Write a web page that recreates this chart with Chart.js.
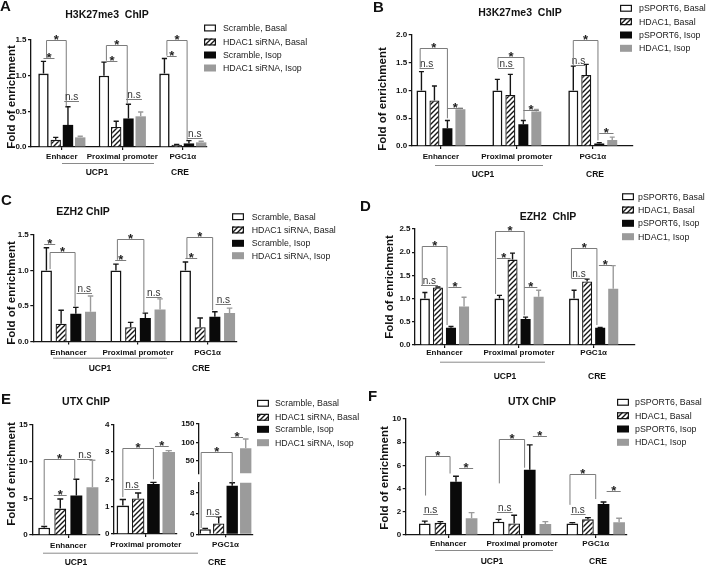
<!DOCTYPE html>
<html><head><meta charset="utf-8">
<script src="https://cdn.jsdelivr.net/npm/chart.js@4.4.1/dist/chart.umd.min.js"></script>
<style>
html,body{margin:0;padding:0;background:#fff;}
#wrap{position:relative;width:713px;height:567px;overflow:hidden;background:#fff;}
#wrap canvas{position:absolute;left:0;top:0;}
</style>
</head><body>
<div id="wrap"></div>
<script>
// ---------------- categories, legends, tick labels ----------------
const catsUCP = ['Enhancer', 'Proximal promoter', 'PGC1\u03b1'];
const catsA = ['Enhacer', 'Proximal promoter', 'PGC1\u03b1'];
const legendKD = ['Scramble, Basal', 'HDAC1 siRNA, Basal', 'Scramble, Isop', 'HDAC1 siRNA, Isop'];
const legendOE = ['pSPORT6, Basal', 'HDAC1, Basal', 'pSPORT6, Isop', 'HDAC1, Isop'];
const yTicksA = ['0.0', '0.5', '1.0', '1.5'];
const yTicksB = ['0.0', '0.5', '1.0', '1.5', '2.0'];
const yTicksC = ['0.0', '0.5', '1.0', '1.5'];
const yTicksD = ['0.0', '0.5', '1.0', '1.5', '2.0', '2.5'];
const yTicksE1 = ['0', '5', '10', '15'];
const yTicksE2 = ['0', '1', '2', '3', '4'];
const yTicksE3low = ['0', '2', '4', '6', '8', '10'];
const yTicksE3high = ['50', '100', '150'];
const yTicksF = ['0', '2', '4', '6', '8', '10'];

// ---------------- values (mean, error) ----------------
const A_scrBasal = [1.03, 1.00, 1.03], A_scrBasalErr = [0.17, 0.19, 0.21];
const A_kdBasal  = [0.10, 0.28, 0.03], A_kdBasalErr  = [0.035, 0.08, 0.005];
const A_scrIsop  = [0.31, 0.40, 0.05], A_scrIsopErr  = [0.255, 0.20, 0.04];
const A_kdIsop   = [0.135, 0.43, 0.065], A_kdIsopErr = [0.015, 0.06, 0.015];

const B_vecBasal = [1.00, 1.00, 1.00], B_vecBasalErr = [0.34, 0.20, 0.44];
const B_hdBasal  = [0.82, 0.92, 1.28], B_hdBasalErr  = [0.26, 0.37, 0.19];
const B_vecIsop  = [0.32, 0.39, 0.045], B_vecIsopErr = [0.14, 0.07, 0.015];
const B_hdIsop   = [0.66, 0.62, 0.11], B_hdIsopErr   = [0.02, 0.04, 0.05];

const C_scrBasal = [1.00, 1.00, 1.00], C_scrBasalErr = [0.32, 0.09, 0.12];
const C_kdBasal  = [0.25, 0.20, 0.20], C_kdBasalErr  = [0.19, 0.07, 0.13];
const C_scrIsop  = [0.39, 0.33, 0.35], C_scrIsopErr  = [0.09, 0.07, 0.07];
const C_kdIsop   = [0.42, 0.45, 0.40], C_kdIsopErr   = [0.22, 0.15, 0.07];

const D_vecBasal = [1.00, 1.00, 1.00], D_vecBasalErr = [0.13, 0.07, 0.18];
const D_hdBasal  = [1.24, 1.84, 1.37], D_hdBasalErr  = [0.01, 0.14, 0.05];
const D_vecIsop  = [0.37, 0.56, 0.37], D_vecIsopErr  = [0.03, 0.04, 0.01];
const D_hdIsop   = [0.83, 1.04, 1.21], D_hdIsopErr   = [0.20, 0.14, 0.50];

const E_scrBasal = [1.0, 1.04, 1.0], E_scrBasalErr = [0.15, 0.22, 0.15];
const E_kdBasal  = [3.6, 1.30, 2.1], E_kdBasalErr  = [1.3, 0.20, 1.3];
const E_scrIsop  = [5.4, 1.83, 9.4], E_scrIsopErr  = [2.2, 0.06, 0.6];
const E_kdIsop   = [6.5, 3.00, 84],  E_kdIsopErr   = [3.7, 0.05, 25];

const F_vecBasal = [1.00, 1.15, 1.00], F_vecBasalErr = [0.20, 0.20, 0.07];
const F_hdBasal  = [1.06, 1.00, 1.35], F_hdBasalErr  = [0.09, 0.70, 0.15];
const F_vecIsop  = [4.60, 5.62, 2.67], F_vecIsopErr  = [0.46, 2.15, 0.18];
const F_hdIsop   = [1.45, 0.95, 1.10], F_hdIsopErr   = [0.48, 0.20, 0.34];

// significance marks: [category, fromBar, toBar, lineValue, dropFrom, dropTo, label]
const A_sig = [
  [0, 0, 0.9, 1.25, null, null, '*'], [0, 0.25, 1.86, 1.50, 1.25, 0.57, '*'], [0, 1.7, 2.9, 0.645, null, null, 'n.s'],
  [1, 0.2, 1.1, 1.21, null, null, '*'], [1, 0.2, 1.9, 1.43, 1.21, 0.61, '*'], [1, 1.8, 3.1, 0.67, null, null, 'n.s'],
  [2, 0.2, 1.0, 1.28, null, null, '*'], [2, 0.2, 1.85, 1.50, 1.28, 0.10, '*'], [2, 1.85, 3.1, 0.12, null, null, 'n.s']];
const B_sig = [
  [0, -0.15, 0.95, 1.41, null, null, 'n.s'], [0, -0.1, 2.0, 1.76, 1.41, 0.50, '*'], [0, 2.0, 3.2, 0.69, null, null, '*'],
  [1, 0.05, 1.3, 1.41, null, null, 'n.s'], [1, 0.05, 2.05, 1.61, 1.41, 0.47, '*'], [1, 2.0, 3.2, 0.65, null, null, '*'],
  [2, -0.1, 0.9, 1.46, null, null, 'n.s'], [2, 0, 1.9, 1.91, 1.46, 0.10, '*'], [2, 2.0, 3.1, 0.23, null, null, '*']];
const C_sig = [
  [0, -0.15, 0.6, 1.38, null, null, '*'], [0, 0.25, 1.95, 1.26, 1.02, 0.49, '*'], [0, 2.05, 3.1, 0.685, null, null, 'n.s'],
  [1, -0.05, 0.7, 1.15, null, null, '*'], [1, 0.1, 1.9, 1.45, 1.15, 0.41, '*'], [1, 2.05, 3.1, 0.63, null, null, 'n.s'],
  [2, 0.0, 0.8, 1.17, null, null, '*'], [2, 0.1, 1.85, 1.47, 1.17, 0.44, '*'], [2, 2.05, 3.1, 0.525, null, null, 'n.s']];
const D_sig = [
  [0, -0.3, 1.0, 1.29, null, null, 'n.s'], [0, -0.2, 1.7, 2.13, 1.29, 0.43, '*'], [0, 1.8, 2.8, 1.24, null, null, '*'],
  [1, -0.2, 0.85, 1.88, null, null, '*'], [1, -0.3, 1.9, 2.46, 1.1, 0.64, '*'], [1, 1.9, 2.9, 1.24, null, null, '*'],
  [2, -0.2, 0.95, 1.44, null, null, 'n.s'], [2, -0.2, 1.75, 2.1, 1.44, 0.43, '*'], [2, 1.9, 2.9, 1.73, null, null, '*']];
const E1_sig = [[0, 0.6, 1.4, 5.4, null, null, '*'], [0, 0, 1.9, 10.4, 1.3, 7.6, '*'], [0, 2.05, 3.0, 10.4, null, null, 'n.s']];
const E2_sig = [[0, 0.1, 1.1, 1.65, null, null, 'n.s'], [0, 0, 2.0, 3.13, 1.35, 2.0, '*'], [0, 2.1, 3.0, 3.22, null, null, '*']];
const E3_sig = [[0, 0.05, 1.1, 3.6, null, null, 'n.s'], [0, -0.3, 2.0, 72.7, 1.2, 10.0, '*'], [0, 1.9, 2.8, 115, null, null, '*']];
const F_sig = [
  [0, -0.1, 0.85, 1.78, null, null, 'n.s'], [0, 0.05, 1.62, 6.85, 3.4, 5.3, '*'], [0, 2.2, 3.1, 5.75, null, null, '*'],
  [1, -0.1, 0.9, 1.95, null, null, 'n.s'], [1, 0.05, 1.67, 8.27, 4.45, 5.8, '*'], [1, 2.2, 3.1, 8.53, null, null, '*'],
  [2, -0.1, 0.85, 1.78, null, null, 'n.s'], [2, -0.15, 1.5, 5.3, 2.6, 3.1, '*'], [2, 2.2, 3.1, 3.8, null, null, '*']];

// ---------------- styles ----------------
const FONT = "'Liberation Sans', Arial, Helvetica, sans-serif";
const INK = '#151515', GRAY = '#9b9b9b';
function makeHatch() {
  const c = document.createElement('canvas'); c.width = 5; c.height = 5;
  const g = c.getContext('2d');
  g.fillStyle = '#fff'; g.fillRect(0, 0, 5, 5);
  g.strokeStyle = INK; g.lineWidth = 1.4; g.lineCap = 'square';
  g.beginPath(); g.moveTo(-1, 6); g.lineTo(6, -1); g.stroke();
  g.beginPath(); g.moveTo(-1, 1); g.lineTo(1, -1); g.moveTo(4, 6); g.lineTo(6, 4); g.stroke();
  return g.createPattern(c, 'repeat');
}
const HATCH = makeHatch();
const FILLS = ['#ffffff', HATCH, '#0a0a0a', GRAY];
const BORDERS = [INK, INK, '#0a0a0a', GRAY];
const BWIDTH = [1.6, 1.3, 0, 0];
const ERRC = [INK, INK, INK, GRAY];

// ---------------- plugins ----------------
const errPlugin = {
  id: 'errbars',
  afterDatasetsDraw(chart) {
    const { ctx, chartArea: a } = chart, y = chart.scales.y;
    ctx.save();
    ctx.beginPath(); ctx.rect(a.left - 8, a.top - 2, a.right - a.left + 16, a.bottom - a.top + 2); ctx.clip();
    chart.data.datasets.forEach((ds, di) => {
      const meta = chart.getDatasetMeta(di);
      meta.data.forEach((el, j) => {
        const v = ds.data[j].y, e = ds.errors[j];
        if (!e) return;
        const yb = y.getPixelForValue(v), yt = y.getPixelForValue(v + e);
        const w = el.width * 0.5;
        ctx.strokeStyle = ERRC[di]; ctx.lineWidth = 1.4;
        ctx.beginPath(); ctx.moveTo(el.x, yb); ctx.lineTo(el.x, yt);
        ctx.moveTo(el.x - w / 2, yt); ctx.lineTo(el.x + w / 2, yt); ctx.stroke();
      });
    });
    ctx.restore();
  }
};
const sigPlugin = {
  id: 'sig',
  afterDatasetsDraw(chart, args, opts) {
    const items = opts && opts.items; if (!items) return;
    const ctx = chart.ctx;
    const yPix = opts.yPix || (v => chart.scales.y.getPixelForValue(v));
    const m0 = chart.getDatasetMeta(0), m1 = chart.getDatasetMeta(1);
    ctx.save();
    items.forEach(([cat, a, b, yv, da, db, lab]) => {
      const x0 = m0.data[cat].x, p = m1.data[cat].x - x0;
      const xa = x0 + a * p, xb = x0 + b * p, yy = Math.round(yPix(yv)) + 0.5;
      ctx.strokeStyle = '#7c7c7c'; ctx.lineWidth = 1;
      ctx.beginPath();
      if (da != null) { ctx.moveTo(xa, yPix(da)); ctx.lineTo(xa, yy); } else ctx.moveTo(xa, yy);
      ctx.lineTo(xb, yy);
      if (db != null) ctx.lineTo(xb, yPix(db));
      ctx.stroke();
      ctx.fillStyle = '#222'; ctx.textAlign = 'center'; ctx.textBaseline = 'alphabetic';
      if (lab === '*') { ctx.font = 'bold 13px ' + FONT; ctx.fillText('*', (xa + xb) / 2, yy + 3.5); }
      else { ctx.font = '10px ' + FONT; ctx.fillStyle = '#333'; ctx.fillText(lab, (xa + xb) / 2, yy - 2); }
    });
    ctx.restore();
  }
};
const decorPlugin = {
  id: 'decor',
  afterDraw(chart, args, o) {
    if (!o || !o.letter) return;
    const ctx = chart.ctx; ctx.save();
    ctx.fillStyle = '#111'; ctx.textBaseline = 'middle';
    ctx.font = 'bold 15px ' + FONT; ctx.textAlign = 'left';
    ctx.fillText(o.letter, o.letterPos[0], o.letterPos[1]);
    ctx.font = 'bold 10.5px ' + FONT; ctx.textAlign = 'center';
    ctx.fillText(o.title, o.titlePos[0], o.titlePos[1]);
    ctx.save(); ctx.translate(o.yTitlePos[0], o.yTitlePos[1]); ctx.rotate(-Math.PI / 2);
    ctx.font = 'bold 11.5px ' + FONT; ctx.fillText('Fold of enrichment', 0, 0); ctx.restore();
    // legend
    ctx.font = '8.8px ' + FONT; ctx.textAlign = 'left';
    chart.data.datasets.forEach((d, i) => {
      const yy = o.legendRows[i], bx = o.legendBoxX;
      ctx.fillStyle = FILLS[i]; ctx.fillRect(bx, yy - 3.5, 12, 7);
      if (BWIDTH[i]) { ctx.strokeStyle = INK; ctx.lineWidth = 1.2; ctx.strokeRect(bx + 0.6, yy - 2.9, 10.8, 5.8); }
      ctx.fillStyle = '#222'; ctx.fillText(d.label, o.legendTextX, yy + 0.5);
    });
    // region labels
    ctx.strokeStyle = '#8a8a8a'; ctx.lineWidth = 1;
    ctx.beginPath(); ctx.moveTo(o.ucpLine[0], o.ucpLine[2] + 0.5); ctx.lineTo(o.ucpLine[1], o.ucpLine[2] + 0.5); ctx.stroke();
    ctx.fillStyle = '#111'; ctx.font = 'bold 8.5px ' + FONT; ctx.textAlign = 'center';
    ctx.fillText('UCP1', o.ucpPos[0], o.ucpPos[1]);
    ctx.fillText('CRE', o.crePos[0], o.crePos[1]);
    ctx.restore();
  }
};

// ---------------- chart factory ----------------
function makeChart(cfg) {
  const cv = document.createElement('canvas');
  cv.width = 713; cv.height = 567;
  document.getElementById('wrap').appendChild(cv);
  const [L, T, R, B] = cfg.area;
  const YW = 30, XH = cfg.xDisplay === false ? 0 : 20;
  const datasets = cfg.series.map((vals, i) => ({
    label: cfg.legend[i],
    data: cfg.idx.map((j, k) => ({ x: k, y: vals[j] })),
    errors: cfg.idx.map(j => cfg.errors[i][j]),
    backgroundColor: FILLS[i], borderColor: BORDERS[i], borderWidth: BWIDTH[i],
    categoryPercentage: cfg.catPct, barPercentage: cfg.barPct, clip: 0
  }));
  const cats = cfg.idx.map(j => cfg.cats[j]);
  const tickFont = { family: FONT, size: 8, weight: 'bold' };
  return new Chart(cv, {
    type: 'bar',
    data: { datasets },
    options: {
      responsive: false, animation: false, devicePixelRatio: 1,
      layout: { padding: { left: L - YW, top: T, right: 713 - R, bottom: 567 - B - XH } },
      plugins: {
        legend: { display: false }, tooltip: { enabled: false }, title: { display: false },
        sig: { items: cfg.sig, yPix: cfg.yPix }, decor: cfg.decor || {}
      },
      scales: {
        x: {
          type: 'linear', min: cfg.xr[0], max: cfg.xr[1], offset: false, display: cfg.xDisplay !== false,
          afterBuildTicks: s => { s.ticks = cats.map((c, i) => ({ value: i })); },
          afterFit: s => { s.height = XH; },
          grid: { display: true, drawOnChartArea: false, drawTicks: true, tickLength: 3, color: INK, lineWidth: 1.2, offset: false },
          border: { display: true, color: INK, width: 1.3 },
          ticks: { callback: v => cats[v], font: tickFont, color: '#111', padding: cfg.xpad, maxRotation: 0, autoSkip: false }
        },
        y: {
          type: 'linear', min: cfg.yr[0], max: cfg.yr[1],
          afterBuildTicks: s => { s.ticks = cfg.yticks.map(t => ({ value: parseFloat(t) })); },
          afterFit: s => { s.width = YW; },
          grid: { display: true, drawOnChartArea: false, drawTicks: true, tickLength: 3, color: INK, lineWidth: 1.2 },
          border: { display: true, color: INK, width: 1.3 },
          ticks: { callback: (v, i) => cfg.yticks[i], font: tickFont, color: '#111', padding: 1.5 }
        }
      }
    },
    plugins: [errPlugin, sigPlugin, decorPlugin]
  });
}

const ALL = [0, 1, 2];
// Panel A
makeChart({
  area: [31, 40, 207, 147], xr: [-0.51, 2.4], yr: [0, 1.5], yticks: yTicksA, cats: catsA, idx: ALL, xpad: 2.2,
  series: [A_scrBasal, A_kdBasal, A_scrIsop, A_kdIsop], errors: [A_scrBasalErr, A_kdBasalErr, A_scrIsopErr, A_kdIsopErr],
  legend: legendKD, catPct: 0.81, barPct: 0.85, sig: A_sig,
  decor: { letter: 'A', letterPos: [0, 7], title: 'H3K27me3  ChIP', titlePos: [107, 15], yTitlePos: [12, 97],
    legendBoxX: 204, legendTextX: 223, legendRows: [28, 42, 55, 68], ucpLine: [62, 154, 163], ucpPos: [97, 173], crePos: [180, 173] }
});
// Panel B
makeChart({
  area: [411.7, 35, 633, 146], xr: [-0.385, 2.53], yr: [0, 2.0], yticks: yTicksB, cats: catsUCP, idx: ALL, xpad: 2.9,
  series: [B_vecBasal, B_hdBasal, B_vecIsop, B_hdIsop], errors: [B_vecBasalErr, B_hdBasalErr, B_vecIsopErr, B_hdIsopErr],
  legend: legendOE, catPct: 0.684, barPct: 0.77, sig: B_sig,
  decor: { letter: 'B', letterPos: [373, 8], title: 'H3K27me3  ChIP', titlePos: [520, 13.5], yTitlePos: [383, 99],
    legendBoxX: 620, legendTextX: 639, legendRows: [8.3, 21.7, 35, 48.3], ucpLine: [435, 543, 165], ucpPos: [483, 175], crePos: [595, 175] }
});
// Panel C
makeChart({
  area: [33.3, 235, 236.7, 341.5], xr: [-0.506, 2.42], yr: [0, 1.5], yticks: yTicksC, cats: catsUCP, idx: ALL, xpad: 3.4,
  series: [C_scrBasal, C_kdBasal, C_scrIsop, C_kdIsop], errors: [C_scrBasalErr, C_kdBasalErr, C_scrIsopErr, C_kdIsopErr],
  legend: legendKD, catPct: 0.846, barPct: 0.75, sig: C_sig,
  decor: { letter: 'C', letterPos: [1, 201], title: 'EZH2 ChIP', titlePos: [83, 212], yTitlePos: [12, 293],
    legendBoxX: 232, legendTextX: 251.7, legendRows: [216.7, 230, 243.3, 255.7], ucpLine: [53, 167, 357.7], ucpPos: [100, 368.3], crePos: [201, 368.3] }
});
// Panel D
makeChart({
  area: [415, 229, 634.3, 345], xr: [-0.395, 2.545], yr: [0, 2.5], yticks: yTicksD, cats: catsUCP, idx: ALL, xpad: 0,
  series: [D_vecBasal, D_hdBasal, D_vecIsop, D_hdIsop], errors: [D_vecBasalErr, D_hdBasalErr, D_vecIsopErr, D_hdIsopErr],
  legend: legendOE, catPct: 0.70, barPct: 0.77, sig: D_sig,
  decor: { letter: 'D', letterPos: [360, 206.5], title: 'EZH2  ChIP', titlePos: [548, 216.7], yTitlePos: [390, 287],
    legendBoxX: 622, legendTextX: 638, legendRows: [196.7, 210, 223.3, 236.7], ucpLine: [440, 545, 361.7], ucpPos: [505, 376.7], crePos: [597, 376.7] }
});
// Panel E (three sub-plots, last one with a broken axis)
const E_series = [E_scrBasal, E_kdBasal, E_scrIsop, E_kdIsop];
const E_errors = [E_scrBasalErr, E_kdBasalErr, E_scrIsopErr, E_kdIsopErr];
makeChart({
  area: [32.3, 425, 100, 535], xr: [-0.532, 0.468], yr: [0, 15], yticks: yTicksE1, cats: catsUCP, idx: [0], xpad: 2.9,
  series: E_series, errors: E_errors, legend: legendKD, catPct: 0.95, barPct: 0.74, sig: E1_sig,
  decor: { letter: 'E', letterPos: [1, 400], title: 'UTX ChIP', titlePos: [86, 402.3], yTitlePos: [12, 474],
    legendBoxX: 257, legendTextX: 275, legendRows: [403.3, 417.3, 429.3, 442.7], ucpLine: [43, 198, 552.7], ucpPos: [76, 563], crePos: [217, 563] }
});
makeChart({
  area: [114, 424.7, 176.7, 534], xr: [-0.507, 0.493], yr: [0, 4], yticks: yTicksE2, cats: catsUCP, idx: [1], xpad: 3.4,
  series: E_series, errors: E_errors, legend: legendKD, catPct: 0.976, barPct: 0.82, sig: E2_sig
});
const E3low = makeChart({
  area: [199, 482.7, 253, 534.3], xr: [-0.49, 0.51], yr: [0, 10], yticks: yTicksE3low, cats: catsUCP, idx: [2], xpad: 2.9,
  series: E_series, errors: E_errors, legend: legendKD, catPct: 1.0, barPct: 0.84
});
makeChart({
  area: [199, 424, 253, 473.3], xr: [-0.49, 0.51], yr: [15.5, 150], yticks: yTicksE3high, cats: catsUCP, idx: [2], xDisplay: false, xpad: 0,
  series: E_series, errors: E_errors, legend: legendKD, catPct: 1.0, barPct: 0.84, sig: E3_sig,
  yPix: null
});
// broken-axis bracket: resolve pixels on whichever segment holds the value
(function () {
  const charts = Object.values(Chart.instances);
  const top = charts[charts.length - 1];
  top.options.plugins.sig.yPix = v => v > 12 ? top.scales.y.getPixelForValue(v) : E3low.scales.y.getPixelForValue(v);
  top.update('none');
})();
// Panel F
makeChart({
  area: [405.7, 419, 626.7, 535], xr: [-0.576, 2.42], yr: [0, 10], yticks: yTicksF, cats: catsUCP, idx: ALL, xpad: 0.6,
  series: [F_vecBasal, F_hdBasal, F_vecIsop, F_hdIsop], errors: [F_vecBasalErr, F_hdBasalErr, F_vecIsopErr, F_hdIsopErr],
  legend: legendOE, catPct: 0.846, barPct: 0.75, sig: F_sig,
  decor: { letter: 'F', letterPos: [368, 396.5], title: 'UTX ChIP', titlePos: [532, 401.7], yTitlePos: [385, 478],
    legendBoxX: 617, legendTextX: 635, legendRows: [402.3, 415.7, 429, 442.3], ucpLine: [435, 553, 550], ucpPos: [492, 561.7], crePos: [598, 561.7] }
});
</script>
</body></html>
